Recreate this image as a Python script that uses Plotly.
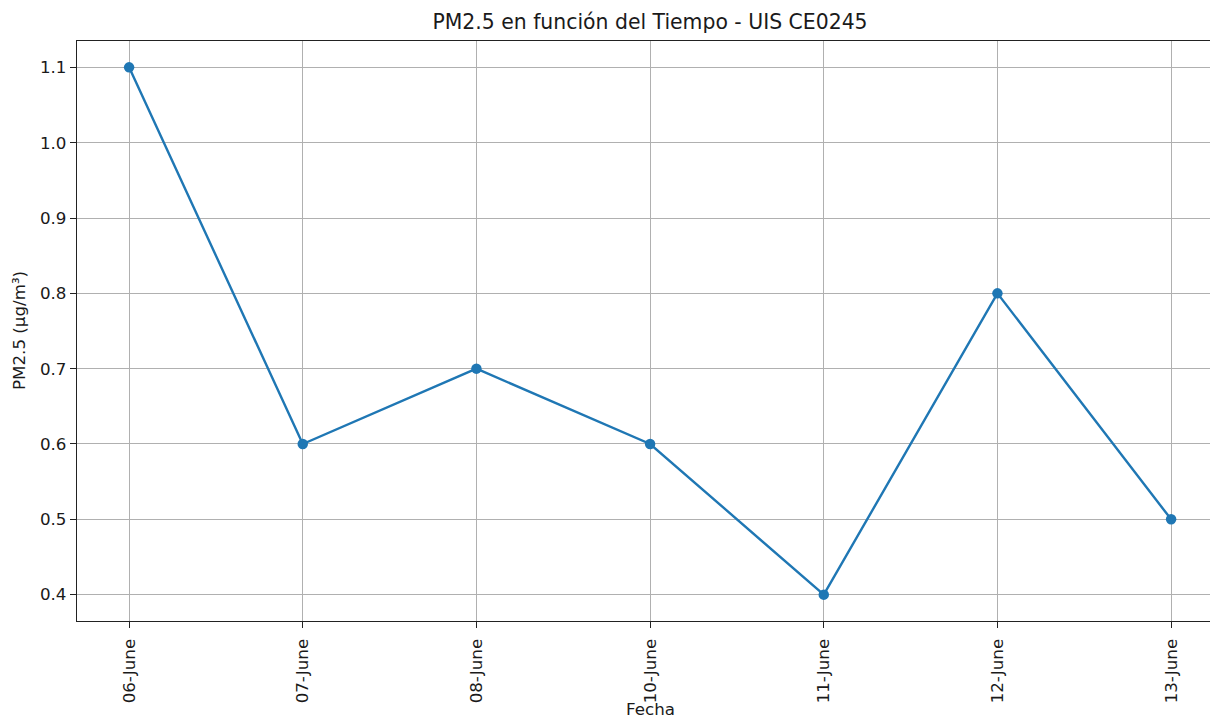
import plotly.graph_objects as go

fechas = ["06-June", "07-June", "08-June", "10-June", "11-June", "12-June", "13-June"]
pm25 = [1.1, 0.6, 0.7, 0.6, 0.4, 0.8, 0.5]
y_ticks = [0.4, 0.5, 0.6, 0.7, 0.8, 0.9, 1.0, 1.1]

W, H = 1210, 722
L, R, T, B = 77, 0, 41, 722 - 621
FONT = "DejaVu Sans"
TXT = "#1a1a1a"

fig = go.Figure()
fig.add_trace(go.Scatter(
    x=fechas, y=pm25, mode="lines+markers",
    line=dict(color="#1f77b4", width=2.4),
    marker=dict(color="#1f77b4", size=10.5),
    showlegend=False,
))

fig.update_layout(
    width=W, height=H,
    margin=dict(l=L, r=R, t=T, b=B, pad=0),
    paper_bgcolor="white", plot_bgcolor="white",
    font=dict(family=FONT, color=TXT, size=16.7),
    title=dict(text="PM2.5 en función del Tiempo - UIS CE0245",
               x=650 / W, xref="container", xanchor="center",
               y=1 - 22 / H, yref="container", yanchor="middle",
               font=dict(family=FONT, size=20.4, color=TXT)),
    xaxis=dict(
        type="category", range=[-0.3, 6.224],
        showgrid=True, gridcolor="#b0b0b0", gridwidth=1.3,
        showline=True, linecolor="#222222", linewidth=1.3, mirror=True,
        ticks="outside", ticklen=6, tickcolor="#222222", tickwidth=1.3,
        ticklabelstandoff=4,
        tickangle=-90, tickfont=dict(size=16.7, family=FONT, color=TXT),
        zeroline=False,
    ),
    yaxis=dict(
        range=[0.365, 1.135], tickvals=y_ticks,
        ticktext=[f"{v:.1f}" for v in y_ticks],
        showgrid=True, gridcolor="#b0b0b0", gridwidth=1.3,
        showline=True, linecolor="#222222", linewidth=1.3, mirror=False,
        ticks="outside", ticklen=6, tickcolor="#222222", tickwidth=1.3,
        tickfont=dict(size=16.7, family=FONT, color=TXT),
        zeroline=False,
    ),
)

plot_w = W - L - R
fig.add_annotation(text="Fecha", xref="paper", yref="paper",
                   x=(650 - L) / plot_w, y=0, yanchor="bottom", xanchor="center",
                   yshift=-(721 - 621), showarrow=False,
                   font=dict(family=FONT, size=16.7, color=TXT))
fig.add_annotation(text="PM2.5 (µg/m³)", xref="paper", yref="paper",
                   x=0, y=0.5, xanchor="center", yanchor="middle",
                   xshift=-(77 - 19), textangle=-90, showarrow=False,
                   font=dict(family=FONT, size=16.7, color=TXT))

fig.write_html(
    "out.html",
    config={"displayModeBar": False},
    post_script="document.body.style.margin='0';document.body.style.overflow='hidden';",
)
